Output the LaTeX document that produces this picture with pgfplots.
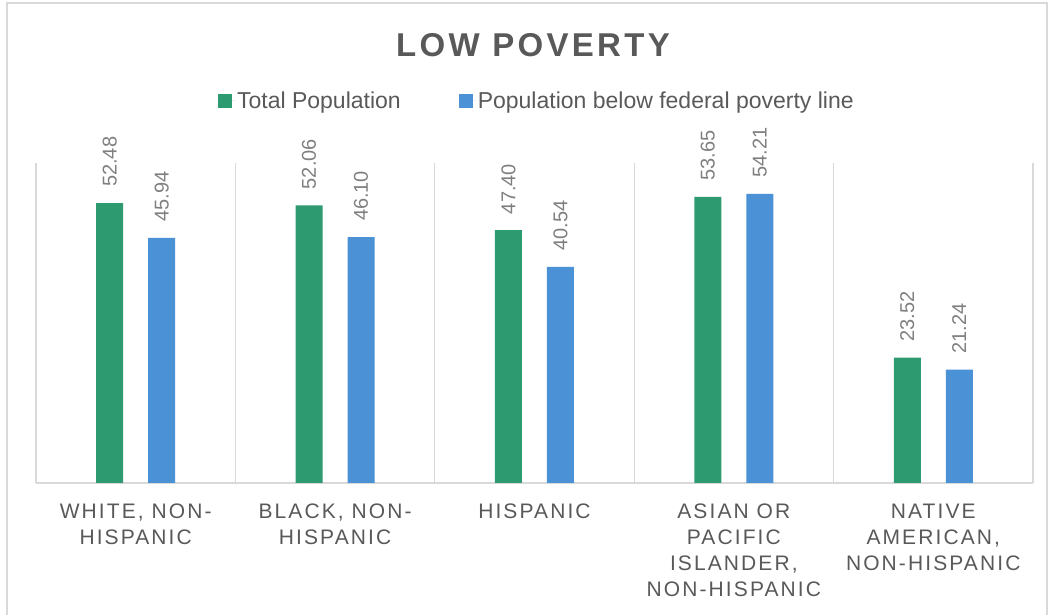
\documentclass[border=0pt]{standalone}
\usepackage{fontspec}
\setmainfont{Liberation Sans}
\newfontfamily\spacedfont[LetterSpace=10]{Liberation Sans}
\newfontfamily\titlefont[LetterSpace=10]{Liberation Sans}
\usepackage{pgfplots}
\pgfplotsset{compat=1.18}
\definecolor{cgreen}{HTML}{2E9A70}
\definecolor{cblue}{HTML}{4A91D5}
\definecolor{txt}{HTML}{595959}
\definecolor{lbl}{HTML}{7F7F7F}
\definecolor{gridc}{HTML}{D9D9D9}
\begin{document}
\begin{tikzpicture}
\path[use as bounding box] (0,0) rectangle (1049bp,615bp);
\draw[gridc, line width=1.5bp] (7bp,-10bp) -- (7bp,612bp) -- (1047bp,612bp) -- (1047bp,-10bp);
\begin{axis}[
  at={(36bp,132bp)}, anchor=south west,
  scale only axis, width=997bp, height=320bp,
  ybar=25bp, bar width=27bp,
  xmin=-0.5, xmax=4.5, ymin=0, ymax=60,
  axis y line=none, axis x line*=bottom,
  x axis line style={gridc, line width=1.2bp, -},
  xtick={0,1,2,3,4},
  xticklabels={{WHITE, NON-\\HISPANIC},{BLACK, NON-\\HISPANIC},{HISPANIC},{ASIAN OR\\PACIFIC\\ISLANDER,\\NON-HISPANIC},{NATIVE\\AMERICAN,\\NON-HISPANIC}},
  xticklabel style={align=center, font=\spacedfont\fontsize{21bp}{26bp}\selectfont, text=txt, anchor=north, inner sep=0pt, yshift=-21bp},
  minor xtick={-0.5,0.5,1.5,2.5,3.5,4.5},
  xminorgrids, minor grid style={gridc, line width=1.2bp},
  major tick length=0pt, minor tick length=0pt,
  /pgf/number format/assume math mode=true,
  nodes near coords={\pgfmathprintnumber[fixed, fixed zerofill, precision=2]{\pgfplotspointmeta}},
  every node near coord/.append style={font=\fontsize{20bp}{20bp}\selectfont, text=lbl, rotate=90, anchor=west, inner xsep=16bp, inner ysep=0pt},
  legend columns=2,
  legend style={at={(0.1825,1.194)}, anchor=west, draw=none, fill=none, inner sep=0pt,
    font=\fontsize{23bp}{26bp}\selectfont, text=txt,
    /tikz/every even column/.append style={column sep=56bp}},
  legend image code/.code={\path (0bp,0bp) -- (17bp,0bp); \fill[#1] (0bp,-7bp) rectangle (14bp,7bp);},
]
\addplot[fill=cgreen, draw=none] coordinates {(0,52.48) (1,52.06) (2,47.40) (3,53.65) (4,23.52)};
\addplot[fill=cblue, draw=none] coordinates {(0,45.94) (1,46.10) (2,40.54) (3,54.21) (4,21.24)};
\legend{Total Population, Population below federal poverty line}
\end{axis}
\node[font=\titlefont\bfseries\fontsize{33bp}{33bp}\selectfont, text=txt, anchor=base] at (533bp,558bp) {LOW POVERTY};
\end{tikzpicture}
\end{document}
